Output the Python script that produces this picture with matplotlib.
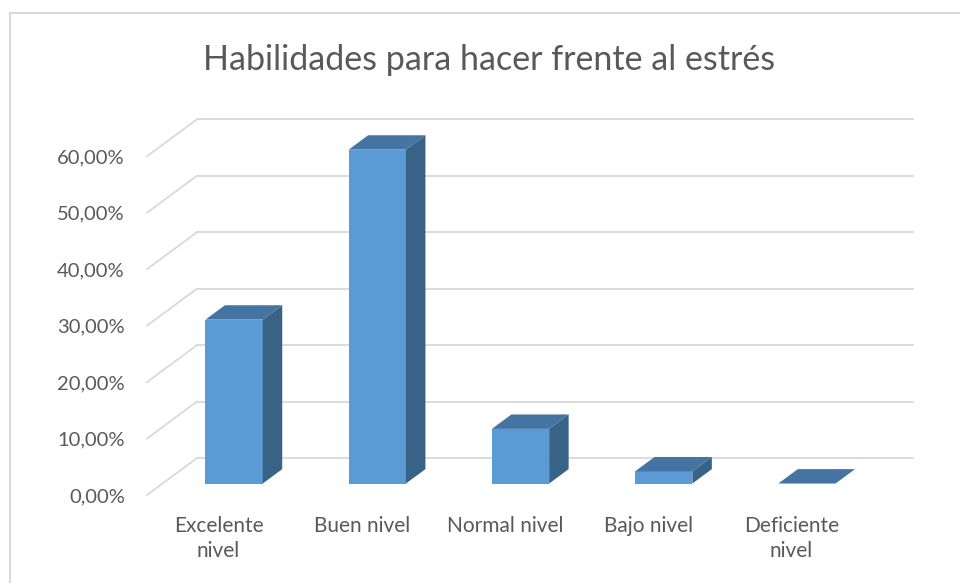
import matplotlib
matplotlib.use("Agg")
import matplotlib.pyplot as plt
from matplotlib.patches import Polygon
from matplotlib.lines import Line2D

# data
categories = ["Excelente\nnivel", "Buen nivel", "Normal nivel", "Bajo nivel", "Deficiente\nnivel"]
values = [29.03, 59.14, 9.68, 2.15, 0.0]
ticks = [0, 10, 20, 30, 40, 50, 60]
tick_labels = ["0,00%", "10,00%", "20,00%", "30,00%", "40,00%", "50,00%", "60,00%"]

# colours
front_col = "#5B9BD5"
top_col = "#4574A2"
side_col = "#396386"
grid_col = "#D9D9D9"
text_col = "#595959"

plt.rcParams["font.family"] = ["Lato", "DejaVu Sans"]

# oblique depth of the walls (data units)
DX = 0.349
DY = 6.55
# bar placement inside the depth
f0 = 0.31
fd = 0.39
width = 0.4

fig = plt.figure(figsize=(9.6, 5.83), dpi=100)
ax = fig.add_axes([147 / 960, 88 / 583, 766 / 960, 375.7 / 583])
ax.set_xlim(-0.5, len(categories) - 0.5 + DX)
ax.set_ylim(0, 60 + DY)

# gridlines: back wall + side wall
x_left = -0.5
x_right = len(categories) - 0.5
for t in ticks:
    ax.plot([x_left + DX, x_right + DX], [t + DY, t + DY], color=grid_col, lw=1.3, zorder=1, clip_on=False)
    ax.plot([x_left, x_left + DX], [t, t + DY], color=grid_col, lw=1.3, zorder=1, clip_on=False)

# bars
xs = [i + f0 * DX for i in range(len(categories))]
base = f0 * DY
ddx = fd * DX
ddy = fd * DY
ax.bar(xs, values, bottom=base, width=width, color=front_col, zorder=3)
for x, v in zip(xs, values):
    x0 = x - width / 2
    x1 = x + width / 2
    top = base + v
    ax.add_patch(Polygon([(x0, top), (x1, top), (x1 + ddx, top + ddy), (x0 + ddx, top + ddy)],
                         closed=True, facecolor=top_col, edgecolor="none", zorder=4))
    if v > 0:
        ax.add_patch(Polygon([(x1, base), (x1, top), (x1 + ddx, top + ddy), (x1 + ddx, base + ddy)],
                             closed=True, facecolor=side_col, edgecolor="none", zorder=4))

# axes text
ax.set_yticks(ticks)
ax.set_yticklabels(tick_labels)
ax.set_xticks(range(len(categories)))
ax.set_xticklabels(categories, linespacing=1.35)
ax.tick_params(axis="y", length=0, pad=16, labelsize=14.5, labelcolor=text_col)
ax.tick_params(axis="x", length=0, pad=15, labelsize=15, labelcolor=text_col)
for s in ax.spines.values():
    s.set_visible(False)
ax.patch.set_visible(False)

# title
fig.text(489 / 960, 1 - 60 / 583, "Habilidades para hacer frente al estrés",
         ha="center", va="center", fontsize=24.5, color=text_col)

# chart border
fig.add_artist(Line2D([10 / 960, 10 / 960], [0, 1 - 13 / 583], transform=fig.transFigure, color=grid_col, lw=1.5))
fig.add_artist(Line2D([10 / 960, 1], [1 - 13 / 583, 1 - 13 / 583], transform=fig.transFigure, color=grid_col, lw=1.5))

fig.savefig("out.png", dpi=100)
